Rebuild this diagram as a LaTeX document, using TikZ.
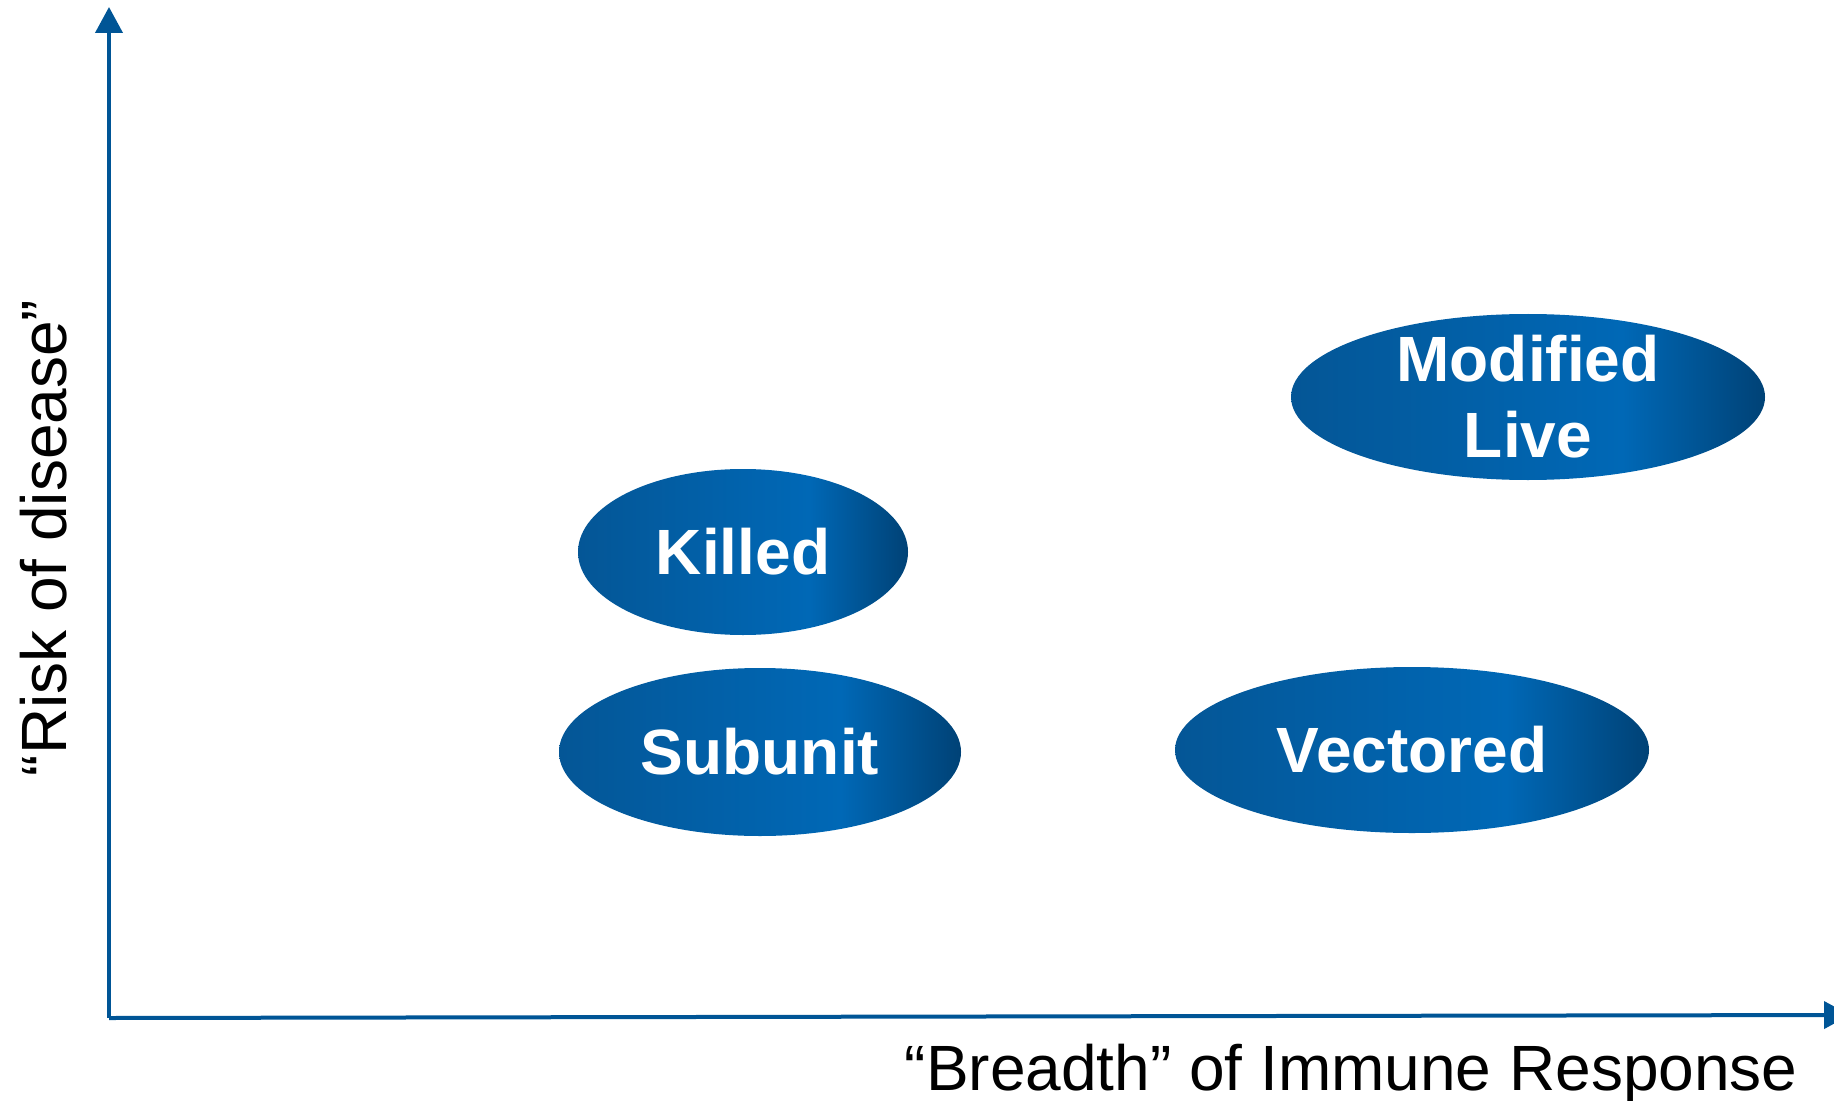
\documentclass[tikz,border=0pt]{standalone}
\usepackage{fontspec}
\setmainfont{Liberation Sans}
\usetikzlibrary{shapes.geometric,arrows.meta}

\definecolor{axisblue}{RGB}{0,85,150}
\definecolor{vaxL}{RGB}{4,86,150}
\definecolor{vaxM}{RGB}{0,104,182}
\definecolor{vaxR}{RGB}{0,66,118}
\pgfdeclarehorizontalshading{vaxshade}{100bp}{color(0bp)=(vaxL); color(25bp)=(vaxL); color(60bp)=(vaxM); color(75bp)=(vaxR); color(100bp)=(vaxR)}

\tikzset{
  vaccine/.style={ellipse, shading=vaxshade, inner sep=0pt, text=white,
    font=\bfseries\fontsize{32}{38}\selectfont, align=center},
  axislabel/.style={font=\fontsize{32}{38}\selectfont, inner sep=0pt}
}

\begin{document}
\begin{tikzpicture}[x=0.5pt, y=-0.5pt]
    \useasboundingbox (0,0) rectangle (1834,1101);
    % axes
    \coordinate (origin) at (109,1018);
    \coordinate (ytop) at (109,7);
    \coordinate (xend) at (1850,1015);
    \draw[axisblue, line width=2pt, -{Triangle[width=13.5pt,length=13pt]}] (origin) -- (ytop);
    \draw[axisblue, line width=2pt, -{Triangle[width=13.5pt,length=13pt]}] (origin) -- (xend);

    \node[axislabel, rotate=90] (ylab) at (44,538) {“Risk of disease”};
    \node[axislabel, anchor=east] (xlab) at (1798,1074) {“Breadth” of Immune Response};

    % vaccine types
    \node[vaccine, minimum width=165pt, minimum height=83pt] (killed) at (743,552) {Killed};
    \node[vaccine, minimum width=201pt, minimum height=84pt] (subunit) at (760,752) {Subunit};
    \node[vaccine, minimum width=237pt, minimum height=83pt] (vectored) at (1412,750) {Vectored};
    \node[vaccine, minimum width=237pt, minimum height=83pt, inner ysep=-7pt] (mlive) at (1528,397) {Modified\\Live};
\end{tikzpicture}
\end{document}
